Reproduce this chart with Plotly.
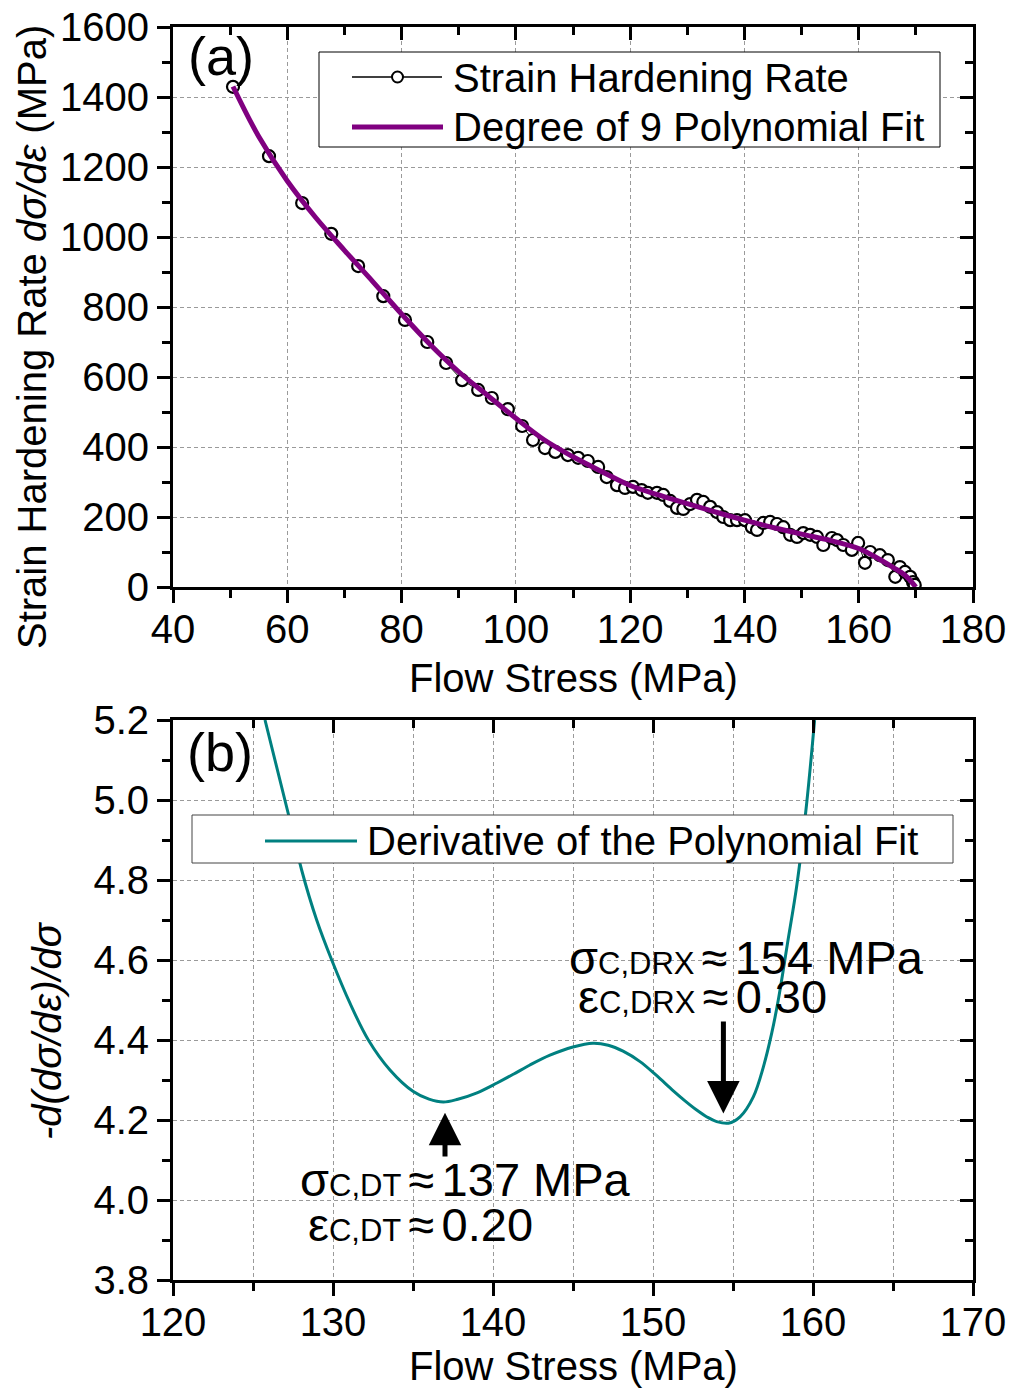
import plotly.graph_objects as go

# ---------------- data ----------------
# (a) strain hardening rate vs flow stress
stress_pts = [50.5, 56.8, 62.6, 67.7, 72.4, 76.8, 80.6, 84.5, 87.8, 90.6, 93.4, 95.8, 98.6,
              101.1, 103.0, 105.1, 106.9, 109.1, 110.9, 112.6, 114.4, 115.9, 117.7, 119.1,
              120.5, 122.0, 123.1, 124.7, 125.8, 127.0, 128.2, 129.3, 130.5, 131.7, 132.8,
              134.0, 135.2, 136.3, 137.5, 138.7, 140.1, 141.3, 142.2, 143.3, 144.5, 145.7,
              146.8, 148.0, 149.2, 150.3, 151.5, 152.7, 153.8, 155.3, 156.2, 157.3, 158.8,
              159.9, 161.1, 162.0, 163.7, 165.1, 166.4, 167.2, 168.1, 169.0, 169.5, 169.8]
rate_pts = [1429, 1231, 1097, 1009, 917, 831, 763, 700, 640, 591, 563, 540, 508,
            460, 420, 397, 386, 377, 369, 360, 343, 314, 291, 283,
            286, 277, 269, 269, 263, 246, 226, 223, 237, 249, 243,
            229, 214, 200, 191, 191, 191, 171, 163, 183, 186, 180,
            171, 149, 143, 154, 149, 143, 120, 140, 134, 120, 106,
            126, 69, 100, 91, 77, 29, 57, 43, 29, 14, 6]

fit_x = [50.5, 55, 60, 65, 70, 75, 80, 85, 90, 95, 100, 105, 110, 115, 120, 125, 130,
         135, 140, 145, 150, 155, 160, 163, 166, 168, 170]
fit_y = [1430, 1287, 1160, 1055, 962, 872, 780, 693, 615, 548, 482, 420, 372, 330, 290,
         263, 238, 214, 191, 170, 151, 133, 110, 85, 56, 35, 0]

# (b) derivative of the polynomial fit
der_x = [125.75, 127.21, 128.04, 128.98, 129.92, 131.06, 132.21, 133.56, 135.02, 136.0,
         136.9, 137.8, 139.0, 140.25, 141.3, 142.31, 143.56, 145.0, 146.25, 147.2, 148.13,
         149.19, 150.2, 151.27, 152.0, 152.73, 153.4, 153.98, 154.71, 155.44, 156.27,
         156.9, 157.42, 157.83, 158.4, 159.0, 159.6, 160.1]
der_y = [5.20, 4.965, 4.825, 4.70, 4.60, 4.492, 4.40, 4.325, 4.271, 4.252,
         4.245, 4.252, 4.268, 4.2925, 4.315, 4.3375, 4.362, 4.3825, 4.392, 4.387, 4.372,
         4.346, 4.312, 4.273, 4.248, 4.225, 4.207, 4.196, 4.192, 4.208, 4.258,
         4.333, 4.417, 4.50, 4.64, 4.79, 4.99, 5.20]

# critical points (stress, arrow tail, arrow head)
crit_dt = dict(x=137.0, tail=4.105, head=4.218)
crit_drx = dict(x=154.4, tail=4.45, head=4.216)

# ---------------- styling helpers ----------------
FONT = "Liberation Sans, Arial, sans-serif"
W, H = 1012, 1390
L, R, T, B = 173, 973, 27, 1280


def px(xp):
    return (xp - L) / (R - L)


def py(yp):
    return (B - yp) / (B - T)


PURPLE = "#800080"
TEAL = "#008080"
GRID = "#9a9a9a"

fig = go.Figure()

fig.add_trace(go.Scatter(
    x=stress_pts, y=rate_pts, mode="lines+markers",
    line=dict(color="black", width=1),
    marker=dict(symbol="circle", size=12, color="white", line=dict(color="black", width=2.2)),
    xaxis="x", yaxis="y", showlegend=False, name="Strain Hardening Rate"))
fig.add_trace(go.Scatter(
    x=fit_x, y=fit_y, mode="lines", line=dict(color=PURPLE, width=5, shape="spline"),
    xaxis="x", yaxis="y", showlegend=False, name="Degree of 9 Polynomial Fit"))
fig.add_trace(go.Scatter(
    x=der_x, y=der_y, mode="lines", line=dict(color=TEAL, width=3, shape="spline", smoothing=1.0),
    xaxis="x2", yaxis="y2", showlegend=False, name="Derivative of the Polynomial Fit"))

# empty helper traces so mirrored inside-tick axes are drawn
for xa, ya in [("x3", "y"), ("x", "y3"), ("x4", "y2"), ("x2", "y4")]:
    fig.add_trace(go.Scatter(x=[], y=[], xaxis=xa, yaxis=ya, showlegend=False, hoverinfo="skip"))

tickfont = dict(family=FONT, size=40, color="black")
dom_top = [py(587), 1.0]
dom_bot = [0.0, py(720)]

common = dict(showline=True, linecolor="black", linewidth=3, ticks="outside",
              tickcolor="black", tickwidth=3, ticklen=13, tickfont=tickfont, automargin=False,
              zeroline=False, gridcolor=GRID, griddash="4px,3px", gridwidth=1)


def inside_axis(**kw):
    d = dict(showline=False, ticks="inside", tickcolor="black", tickwidth=3, ticklen=13,
             showticklabels=False, showgrid=False, zeroline=False, automargin=False)
    d.update(kw)
    return d


fig.update_layout(
    width=W, height=H, paper_bgcolor="white", plot_bgcolor="white",
    margin=dict(l=L, r=W - R, t=T, b=H - B, pad=0, autoexpand=False),
    font=dict(family=FONT, size=40, color="black"),
    xaxis=dict(**common, range=[40, 180], dtick=20, tick0=40, anchor="y", domain=[0, 1],
               mirror=True, showgrid=True, ticklabelstandoff=-8,
               minor=dict(dtick=10, ticks="outside", ticklen=8, tickwidth=3, tickcolor="black",
                          showgrid=False)),
    yaxis=dict(**common, range=[0, 1600], dtick=200, tick0=0, anchor="x", domain=dom_top,
               mirror=True, showgrid=True,
               minor=dict(dtick=100, ticks="outside", ticklen=8, tickwidth=3, tickcolor="black",
                          showgrid=False)),
    xaxis2=dict(**common, range=[120, 170], dtick=10, tick0=120, anchor="y2", domain=[0, 1],
                mirror=True, showgrid=True, ticklabelstandoff=-8,
                minor=dict(dtick=5, ticks="outside", ticklen=8, tickwidth=3, tickcolor="black",
                           showgrid=True, gridcolor=GRID, griddash="4px,3px", gridwidth=1)),
    yaxis2=dict(**common, range=[3.8, 5.2], dtick=0.2, tick0=3.8, tickformat=".1f",
                anchor="x2", domain=dom_bot, mirror=True, showgrid=True,
                minor=dict(dtick=0.1, ticks="outside", ticklen=8, tickwidth=3, tickcolor="black",
                           showgrid=False)),
    xaxis3=inside_axis(overlaying="x", side="top", anchor="y", range=[40, 180], dtick=20, tick0=40,
                       minor=dict(dtick=10, ticks="inside", ticklen=8, tickwidth=3, tickcolor="black")),
    yaxis3=inside_axis(overlaying="y", side="right", anchor="x", range=[0, 1600], dtick=200, tick0=0,
                       minor=dict(dtick=100, ticks="inside", ticklen=8, tickwidth=3, tickcolor="black")),
    xaxis4=inside_axis(overlaying="x2", side="top", anchor="y2", range=[120, 170], dtick=10, tick0=120,
                       minor=dict(dtick=5, ticks="inside", ticklen=8, tickwidth=3, tickcolor="black")),
    yaxis4=inside_axis(overlaying="y2", side="right", anchor="x2", range=[3.8, 5.2], dtick=0.2, tick0=3.8,
                       minor=dict(dtick=0.1, ticks="inside", ticklen=8, tickwidth=3, tickcolor="black")),
)

shapes = []
annotations = []

# ---- manual legend (a) ----
shapes.append(dict(type="rect", xref="paper", yref="paper", x0=px(319), x1=px(940),
                   y0=py(147), y1=py(52), line=dict(color="black", width=1), fillcolor="white",
                   layer="above"))
shapes.append(dict(type="line", xref="paper", yref="paper", x0=px(352), x1=px(442),
                   y0=py(77), y1=py(77), line=dict(color="black", width=1.5), layer="above"))
shapes.append(dict(type="circle", xref="paper", yref="paper", x0=px(392), x1=px(403),
                   y0=py(82.5), y1=py(71.5), line=dict(color="black", width=2), fillcolor="white",
                   layer="above"))
shapes.append(dict(type="line", xref="paper", yref="paper", x0=px(352), x1=px(443),
                   y0=py(127), y1=py(127), line=dict(color=PURPLE, width=5), layer="above"))
annotations.append(dict(xref="paper", yref="paper", x=px(451), y=py(78), xanchor="left",
                        yanchor="middle", text="Strain Hardening Rate", showarrow=False,
                        font=dict(size=40)))
annotations.append(dict(xref="paper", yref="paper", x=px(451), y=py(127), xanchor="left",
                        yanchor="middle", text="Degree of 9 Polynomial Fit", showarrow=False,
                        font=dict(size=40)))

# ---- manual legend (b) ----
shapes.append(dict(type="rect", xref="paper", yref="paper", x0=px(192), x1=px(953),
                   y0=py(863), y1=py(815), line=dict(color="#444", width=1), fillcolor="white",
                   layer="above"))
shapes.append(dict(type="line", xref="paper", yref="paper", x0=px(265), x1=px(357),
                   y0=py(841), y1=py(841), line=dict(color=TEAL, width=3), layer="above"))
annotations.append(dict(xref="paper", yref="paper", x=px(365), y=py(841), xanchor="left",
                        yanchor="middle", text="Derivative of the Polynomial Fit", showarrow=False,
                        font=dict(size=40)))

# ---- panel labels ----
annotations.append(dict(xref="paper", yref="paper", x=px(221), y=py(56), text="(a)",
                        showarrow=False, font=dict(size=54), xanchor="center", yanchor="middle"))
annotations.append(dict(xref="paper", yref="paper", x=px(220), y=py(752), text="(b)",
                        showarrow=False, font=dict(size=54), xanchor="center", yanchor="middle"))

# ---- axis titles ----
annotations.append(dict(xref="paper", yref="paper", x=px(32), y=py(337), textangle=-90,
                        text="Strain Hardening Rate <i>dσ/dε</i> (MPa)", showarrow=False,
                        font=dict(size=40), xanchor="center", yanchor="middle"))
annotations.append(dict(xref="paper", yref="paper", x=px(47), y=py(1031), textangle=-90,
                        text="<i>-d(dσ/dε)/dσ</i>", showarrow=False,
                        font=dict(size=40), xanchor="center", yanchor="middle"))
annotations.append(dict(xref="paper", yref="paper", x=px(573), y=py(678),
                        text="Flow Stress (MPa)", showarrow=False,
                        font=dict(size=40), xanchor="center", yanchor="middle"))
annotations.append(dict(xref="paper", yref="paper", x=px(573), y=py(1366),
                        text="Flow Stress (MPa)", showarrow=False,
                        font=dict(size=40), xanchor="center", yanchor="middle"))

# ---- critical point arrows ----
for c in (crit_dt, crit_drx):
    annotations.append(dict(xref="x2", yref="y2", x=c["x"], y=c["head"], ax=c["x"], ay=c["tail"],
                            axref="x2", ayref="y2", text="", showarrow=True, arrowhead=2,
                            arrowsize=1.3, arrowwidth=5, arrowcolor="black"))

SUB = '<span style="font-size:31px">%s</span>'
GAP = '<span style="font-size:26px">\u00a0</span>'
AF = dict(size=47)
annotations.append(dict(xref="paper", yref="paper", x=px(298), y=py(1179), xanchor="left",
                        yanchor="middle", showarrow=False, font=AF,
                        text="σ" + SUB % "C,DT" + GAP + "≈" + GAP + "137 MPa"))
annotations.append(dict(xref="paper", yref="paper", x=px(306), y=py(1224), xanchor="left",
                        yanchor="middle", showarrow=False, font=AF,
                        text="ε" + SUB % "C,DT" + GAP + "≈" + GAP + "0.20"))
annotations.append(dict(xref="paper", yref="paper", x=px(567), y=py(958), xanchor="left",
                        yanchor="middle", showarrow=False, font=AF,
                        text="σ" + SUB % "C,DRX" + GAP + "≈" + GAP + "154 MPa"))
annotations.append(dict(xref="paper", yref="paper", x=px(576), y=py(996), xanchor="left",
                        yanchor="middle", showarrow=False, font=AF,
                        text="ε" + SUB % "C,DRX" + GAP + "≈" + GAP + "0.30"))

fig.update_layout(shapes=shapes, annotations=annotations)

fig.write_html(
    "out.html",
    config={"displayModeBar": False},
    post_script=("document.body.style.margin='0px';"
                 "document.body.style.overflow='hidden';"
                 "document.documentElement.style.overflow='hidden';"),
)
